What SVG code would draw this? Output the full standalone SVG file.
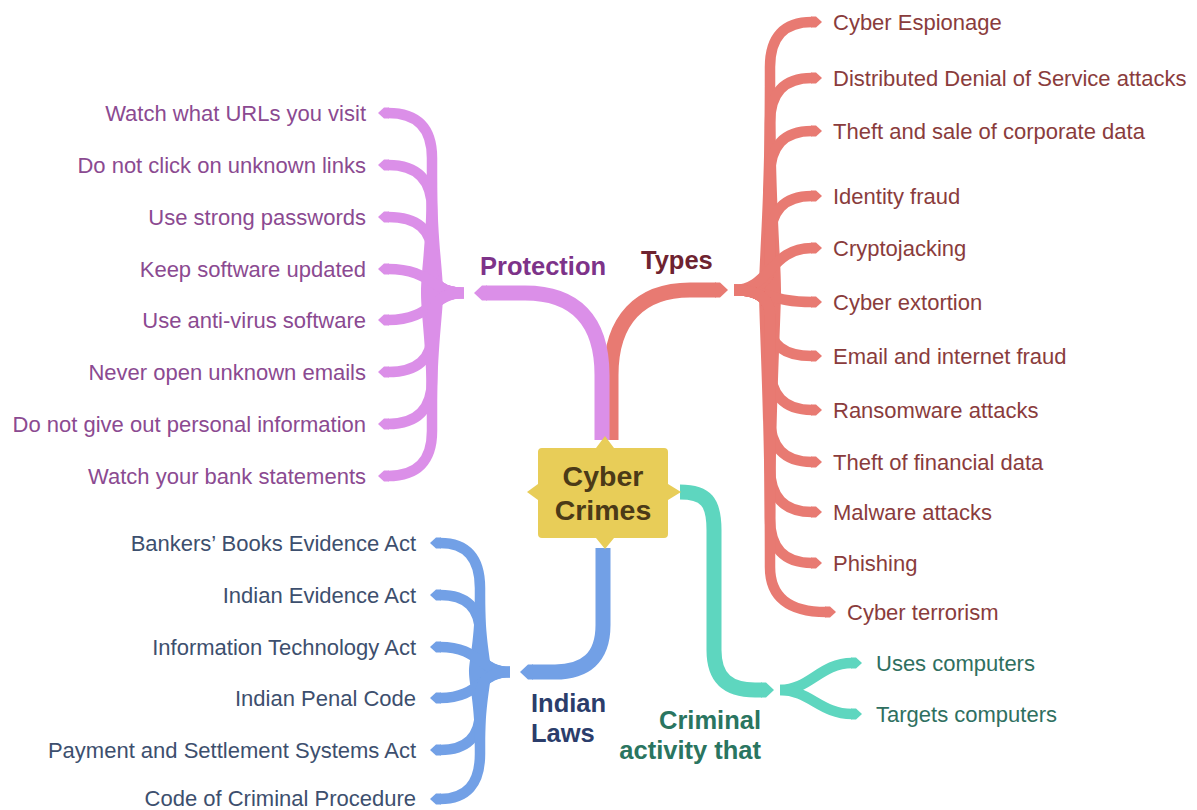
<svg xmlns="http://www.w3.org/2000/svg" width="1197" height="810" viewBox="0 0 1197 810">
<style>
text{font-family:"Liberation Sans",Arial,sans-serif}
.lf{font-size:22px}
.hd{font-size:25.5px;font-weight:bold}
.br{fill:none;stroke-linecap:butt;stroke-linejoin:round}
.leaf{stroke-width:10.5}
.trunk{stroke-width:15}
.p{stroke:#db8fe8}.r{stroke:#e87a72}.b{stroke:#72a0e6}.t{stroke:#5ed6bf}
.pt{fill:#8b4a91}.rt{fill:#8a3c3c}.bt{fill:#3d4f6e}.tt{fill:#2f6f60}
</style>
<defs>
<marker id="lP" viewBox="-1 -7 12 14" markerWidth="12" markerHeight="14" refX="0" refY="0" orient="auto" markerUnits="userSpaceOnUse"><path d="M-1,-5.5 L4,-5.5 L10,0 L4,5.5 L-1,5.5 Z" fill="#db8fe8"/></marker>
<marker id="lR" viewBox="-1 -7 12 14" markerWidth="12" markerHeight="14" refX="0" refY="0" orient="auto" markerUnits="userSpaceOnUse"><path d="M-1,-5.5 L4,-5.5 L10,0 L4,5.5 L-1,5.5 Z" fill="#e87a72"/></marker>
<marker id="lB" viewBox="-1 -7 12 14" markerWidth="12" markerHeight="14" refX="0" refY="0" orient="auto" markerUnits="userSpaceOnUse"><path d="M-1,-5.5 L4,-5.5 L10,0 L4,5.5 L-1,5.5 Z" fill="#72a0e6"/></marker>
<marker id="lT" viewBox="-1 -7 12 14" markerWidth="12" markerHeight="14" refX="0" refY="0" orient="auto" markerUnits="userSpaceOnUse"><path d="M-1,-5.5 L4,-5.5 L10,0 L4,5.5 L-1,5.5 Z" fill="#5ed6bf"/></marker>
<marker id="tP" viewBox="-1 -9 14 18" markerWidth="14" markerHeight="18" refX="0" refY="0" orient="auto" markerUnits="userSpaceOnUse"><path d="M-1,-7.5 L4,-7.5 L12,0 L4,7.5 L-1,7.5 Z" fill="#db8fe8"/></marker>
<marker id="tR" viewBox="-1 -9 14 18" markerWidth="14" markerHeight="18" refX="0" refY="0" orient="auto" markerUnits="userSpaceOnUse"><path d="M-1,-7.5 L4,-7.5 L12,0 L4,7.5 L-1,7.5 Z" fill="#e87a72"/></marker>
<marker id="tB" viewBox="-1 -9 14 18" markerWidth="14" markerHeight="18" refX="0" refY="0" orient="auto" markerUnits="userSpaceOnUse"><path d="M-1,-7.5 L4,-7.5 L12,0 L4,7.5 L-1,7.5 Z" fill="#72a0e6"/></marker>
<marker id="tT" viewBox="-1 -9 14 18" markerWidth="14" markerHeight="18" refX="0" refY="0" orient="auto" markerUnits="userSpaceOnUse"><path d="M-1,-7.5 L4,-7.5 L12,0 L4,7.5 L-1,7.5 Z" fill="#5ed6bf"/></marker>
</defs>
<rect width="1197" height="810" fill="#ffffff"/>

<g id="connectors">
  <!-- Types trunk (behind protection trunk) -->
  <path class="br trunk r" marker-end="url(#tR)" d="M611 440 L611 375 C611 320 640 290 690 290 L716 290"/>
  <!-- Protection trunk -->
  <path class="br trunk p" marker-end="url(#tP)" d="M602 440 L602 375 C602 320 575 293 525 293 L486 293"/>
  <!-- Indian Laws trunk -->
  <path class="br trunk b" marker-end="url(#tB)" d="M603 548 L603 625 C603 658 585 672 555 672 L532 672"/>
  <!-- Criminal activity trunk -->
  <path class="br trunk t" marker-end="url(#tT)" d="M680 492 C706 492 714 502 714 530 L714 650 C714 680 730 690 755 690 L762 690"/>

  <!-- Protection leaves -->
  <path fill="#db8fe8" d="M427 175 C427 240 421 270 421 293 C421 316 427 346 427 415 L437 415 C437 346 443 316 443 293 C443 270 437 240 437 175 Z"/>
  <path class="br leaf p" marker-end="url(#lP)" d="M464 293 Q432 293 432 268 L432 158 Q432 113 388 113"/>
  <path class="br leaf p" marker-end="url(#lP)" d="M464 293 Q432 293 432 268 L432 210 Q432 165 388 165"/>
  <path class="br leaf p" marker-end="url(#lP)" d="M464 293 Q432 293 432 268 L432 255 Q432 217 388 217"/>
  <path class="br leaf p" marker-end="url(#lP)" d="M464 293 C432 293 432 269 388 269"/>
  <path class="br leaf p" marker-end="url(#lP)" d="M464 293 C432 293 432 320 388 320"/>
  <path class="br leaf p" marker-end="url(#lP)" d="M464 293 Q432 293 432 318 L432 333 Q432 372 388 372"/>
  <path class="br leaf p" marker-end="url(#lP)" d="M464 293 Q432 293 432 318 L432 379 Q432 424 388 424"/>
  <path class="br leaf p" marker-end="url(#lP)" d="M464 293 Q432 293 432 318 L432 431 Q432 476 388 476"/>

  <!-- Types leaves -->
  <path fill="#e87a72" d="M765 75 C765 200 759 260 759 290 C759 320 765 420 765 560 L775 560 C775 420 781 320 781 290 C781 260 775 200 775 75 Z"/>
  <path class="br leaf r" marker-end="url(#lR)" d="M734 290 Q770 290 770 265 L770 67 Q770 22 812 22"/>
  <path class="br leaf r" marker-end="url(#lR)" d="M734 290 Q770 290 770 265 L770 123 Q770 78 812 78"/>
  <path class="br leaf r" marker-end="url(#lR)" d="M734 290 Q770 290 770 265 L770 176 Q770 131 812 131"/>
  <path class="br leaf r" marker-end="url(#lR)" d="M734 290 Q770 290 770 265 L770 241 Q770 196 812 196"/>
  <path class="br leaf r" marker-end="url(#lR)" d="M734 290 C770 290 770 248 812 248"/>
  <path class="br leaf r" marker-end="url(#lR)" d="M734 290 C770 290 770 302 812 302"/>
  <path class="br leaf r" marker-end="url(#lR)" d="M734 290 Q770 290 770 315 L770 323 Q770 356 812 356"/>
  <path class="br leaf r" marker-end="url(#lR)" d="M734 290 Q770 290 770 315 L770 365 Q770 410 812 410"/>
  <path class="br leaf r" marker-end="url(#lR)" d="M734 290 Q770 290 770 315 L770 417 Q770 462 812 462"/>
  <path class="br leaf r" marker-end="url(#lR)" d="M734 290 Q770 290 770 315 L770 467 Q770 512 812 512"/>
  <path class="br leaf r" marker-end="url(#lR)" d="M734 290 Q770 290 770 315 L770 518 Q770 563 812 563"/>
  <path class="br leaf r" marker-end="url(#lR)" d="M734 290 Q770 290 770 315 L770 567 Q770 612 826 612"/>

  <!-- Indian Laws leaves -->
  <path fill="#72a0e6" d="M475 595 C475 640 469 660 469 672 C469 684 475 704 475 748 L485 748 C485 704 491 684 491 672 C491 660 485 640 485 595 Z"/>
  <path class="br leaf b" marker-end="url(#lB)" d="M510 672 Q480 672 480 647 L480 588 Q480 543 440 543"/>
  <path class="br leaf b" marker-end="url(#lB)" d="M510 672 Q480 672 480 647 L480 634 Q480 595 440 595"/>
  <path class="br leaf b" marker-end="url(#lB)" d="M510 672 C480 672 480 647 440 647"/>
  <path class="br leaf b" marker-end="url(#lB)" d="M510 672 C480 672 480 698 440 698"/>
  <path class="br leaf b" marker-end="url(#lB)" d="M510 672 Q480 672 480 697 L480 711 Q480 750 440 750"/>
  <path class="br leaf b" marker-end="url(#lB)" d="M510 672 Q480 672 480 697 L480 754 Q480 799 440 799"/>

  <!-- Criminal activity leaves -->
  <path class="br leaf t" marker-end="url(#lT)" d="M780 690 C810 690 820 663 852 663"/>
  <path class="br leaf t" marker-end="url(#lT)" d="M780 690 C810 690 820 714 852 714"/>
</g>

<g id="center">
  <path fill="#e8cd58" d="M542 448 L596 448 L605 436 L614 448 L664 448 Q668 448 668 452 L668 484 L681 492 L668 500 L668 534 Q668 538 664 538 L614 538 L605 549 L596 538 L542 538 Q538 538 538 534 L538 500 L527 492 L538 484 L538 452 Q538 448 542 448 Z"/>
  <text x="603" y="486" text-anchor="middle" font-size="28.5" font-weight="bold" fill="#4b3a17">Cyber</text>
  <text x="603" y="520" text-anchor="middle" font-size="28.5" font-weight="bold" fill="#4b3a17">Crimes</text>
</g>

<g id="protection">
  <text class="hd" x="480" y="275" fill="#7d3389">Protection</text>
</g>
<g id="protection-items" text-anchor="end">
  <text class="lf pt" x="366" y="121">Watch what URLs you visit</text>
  <text class="lf pt" x="366" y="173">Do not click on unknown links</text>
  <text class="lf pt" x="366" y="225">Use strong passwords</text>
  <text class="lf pt" x="366" y="277">Keep software updated</text>
  <text class="lf pt" x="366" y="328">Use anti-virus software</text>
  <text class="lf pt" x="366" y="380">Never open unknown emails</text>
  <text class="lf pt" x="366" y="432">Do not give out personal information</text>
  <text class="lf pt" x="366" y="484">Watch your bank statements</text>
</g>

<g id="types">
  <text class="hd" x="641" y="269" fill="#6e2330">Types</text>
</g>
<g id="types-items">
  <text class="lf rt" x="833" y="30">Cyber Espionage</text>
  <text class="lf rt" x="833" y="86">Distributed Denial of Service attacks</text>
  <text class="lf rt" x="833" y="139">Theft and sale of corporate data</text>
  <text class="lf rt" x="833" y="204">Identity fraud</text>
  <text class="lf rt" x="833" y="256">Cryptojacking</text>
  <text class="lf rt" x="833" y="310">Cyber extortion</text>
  <text class="lf rt" x="833" y="364">Email and internet fraud</text>
  <text class="lf rt" x="833" y="418">Ransomware attacks</text>
  <text class="lf rt" x="833" y="470">Theft of financial data</text>
  <text class="lf rt" x="833" y="520">Malware attacks</text>
  <text class="lf rt" x="833" y="571">Phishing</text>
  <text class="lf rt" x="847" y="620">Cyber terrorism</text>
</g>

<g id="laws">
  <text class="hd" x="531" y="712" fill="#2b3d6b">Indian</text>
  <text class="hd" x="531" y="742" fill="#2b3d6b">Laws</text>
</g>
<g id="laws-items" text-anchor="end">
  <text class="lf bt" x="416" y="551">Bankers’ Books Evidence Act</text>
  <text class="lf bt" x="416" y="603">Indian Evidence Act</text>
  <text class="lf bt" x="416" y="655">Information Technology Act</text>
  <text class="lf bt" x="416" y="706">Indian Penal Code</text>
  <text class="lf bt" x="416" y="758">Payment and Settlement Systems Act</text>
  <text class="lf bt" x="416" y="806">Code of Criminal Procedure</text>
</g>

<g id="criminal">
  <text class="hd" x="761" y="729" text-anchor="end" fill="#2a7560">Criminal</text>
  <text class="hd" x="761" y="759" text-anchor="end" fill="#2a7560">activity that</text>
</g>
<g id="criminal-items">
  <text class="lf tt" x="876" y="671">Uses computers</text>
  <text class="lf tt" x="876" y="722">Targets computers</text>
</g>
</svg>
